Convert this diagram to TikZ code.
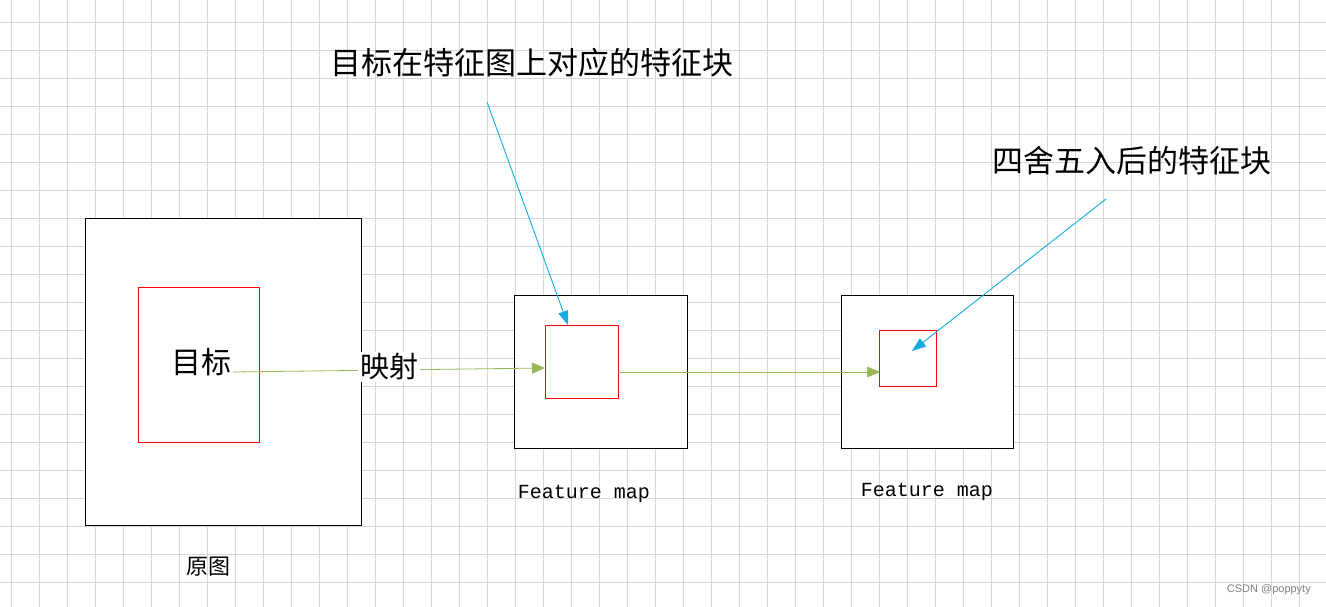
\documentclass[tikz,border=0pt]{standalone}
\usepackage{fontspec}
\newfontfamily\cjk{Noto Sans CJK SC}
\newfontfamily\mono{Liberation Mono}
\newfontfamily\lsans{Liberation Sans}
\usetikzlibrary{arrows.meta}
\definecolor{gridc}{RGB}{215,215,215}
\definecolor{grn}{RGB}{150,185,90}
\definecolor{blu}{RGB}{20,170,230}
\tikzset{
 blk/.style={draw=black,line width=0.9pt},
 redb/.style={draw=red,line width=0.9pt},
 garrow/.style={grn,line width=0.8pt,-{Triangle[length=13pt,width=11pt]}},
 barrow/.style={blu,line width=0.9pt,-{Triangle[length=14pt,width=10pt]}},
 lbl/.style={font=\cjk\fontsize{31}{34}\selectfont,inner sep=0pt},
}
\begin{document}
\begin{tikzpicture}[x=1pt,y=-1pt]
\useasboundingbox (0,0) rectangle (1326,607);
\fill[white] (0,0) rectangle (1326,607);
\foreach \i in {0,...,47} \draw[gridc,line width=0.8pt] (11.3+28*\i,0) -- (11.3+28*\i,607);
\foreach \j in {0,...,21} \draw[gridc,line width=0.8pt] (0,22.3+28*\j) -- (1326,22.3+28*\j);
\node[blk,fill=white,minimum width=276pt,minimum height=307pt,inner sep=0pt,anchor=north west] (big) at (85,218) {};
\node[redb,minimum width=121pt,minimum height=155pt,inner sep=0pt,anchor=north west] (r1) at (138,287) {};
\node[blk,fill=white,minimum width=173pt,minimum height=153pt,inner sep=0pt,anchor=north west] (b2) at (514,295) {};
\node[redb,minimum width=73pt,minimum height=73pt,inner sep=0pt,anchor=north west] (r2) at (545,325) {};
\node[blk,fill=white,minimum width=172pt,minimum height=153pt,inner sep=0pt,anchor=north west] (b3) at (841,295) {};
\node[redb,minimum width=57pt,minimum height=56pt,inner sep=0pt,anchor=north west] (r3) at (879,330) {};
\node[font=\cjk\fontsize{30}{32}\selectfont,inner sep=0pt] (t1) at (201,362) {目标};
\coordinate (g1) at (233,372);
\coordinate (g1e) at (545,368);
\draw[garrow] (g1) -- (g1e);
\node[font=\cjk\fontsize{29}{32}\selectfont,fill=white,inner sep=2pt] (ys) at (389,367) {映射};
\coordinate (g2) at (618,372);
\coordinate (g3) at (880,372);
\draw[garrow,line width=0.5pt] (g2) -- (g3);
\node[lbl] (h1) at (532,63) {目标在特征图上对应的特征块};
\node[lbl] (h2) at (1132,161) {四舍五入后的特征块};
\coordinate (a1) at (487,102);
\coordinate (a1e) at (568,325);
\draw[barrow] (a1) -- (a1e);
\coordinate (a2) at (1106,199);
\coordinate (a2e) at (912,351);
\draw[barrow] (a2) -- (a2e);
\node[font=\mono\fontsize{20}{22}\selectfont,inner sep=0pt] (f1) at (584,494) {Feature map};
\node[font=\mono\fontsize{20}{22}\selectfont,inner sep=0pt] (f2) at (927,492) {Feature map};
\node[font=\cjk\fontsize{22}{24}\selectfont,inner sep=0pt] (yt) at (208,567) {原图};
\node[font=\lsans\fontsize{11}{12}\selectfont,text=gray,inner sep=0pt,anchor=east] (wm) at (1311,590) {CSDN @poppyty};
\end{tikzpicture}
\end{document}
